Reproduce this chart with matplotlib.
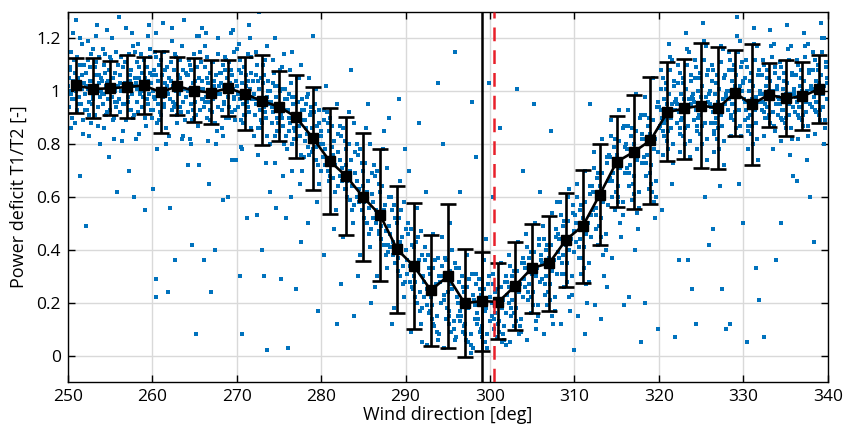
import matplotlib
matplotlib.use("Agg")
import matplotlib.pyplot as plt

plt.rcParams['font.family'] = ['Open Sans', 'DejaVu Sans']

# Binned statistics (bin centres, mean, upper and lower end of error bar)
bin_centers = [251, 253, 255, 257, 259, 261, 263, 265, 267, 269, 271, 273, 275, 277, 279,
               281, 283, 285, 287, 289, 291, 293, 295, 297, 299, 301, 303, 305, 307, 309,
               311, 313, 315, 317, 319, 321, 323, 325, 327, 329, 331, 333, 335, 337, 339]
mean_vals = [1.022, 1.009, 1.011, 1.016, 1.022, 0.997, 1.019, 1.002, 0.995, 1.012, 0.990, 0.963, 0.942, 0.903, 0.824,
             0.737, 0.678, 0.599, 0.531, 0.402, 0.338, 0.247, 0.300, 0.198, 0.206, 0.203, 0.265, 0.332, 0.349, 0.438,
             0.491, 0.609, 0.733, 0.770, 0.814, 0.921, 0.935, 0.946, 0.936, 0.995, 0.950, 0.987, 0.973, 0.981, 1.009]
upper_vals = [1.124, 1.124, 1.113, 1.136, 1.129, 1.152, 1.129, 1.124, 1.119, 1.118, 1.129, 1.137, 1.076, 1.063, 1.016,
              0.938, 0.902, 0.844, 0.781, 0.643, 0.579, 0.458, 0.574, 0.402, 0.392, 0.351, 0.428, 0.498, 0.527, 0.615,
              0.704, 0.801, 0.907, 0.985, 1.055, 1.112, 1.123, 1.183, 1.166, 1.157, 1.178, 1.108, 1.117, 1.109, 1.136]
lower_vals = [0.918, 0.900, 0.910, 0.900, 0.913, 0.844, 0.910, 0.883, 0.876, 0.905, 0.855, 0.797, 0.810, 0.746, 0.626,
              0.534, 0.455, 0.357, 0.281, 0.161, 0.101, 0.035, 0.028, -0.005, 0.019, 0.061, 0.098, 0.161, 0.169, 0.260,
              0.276, 0.418, 0.561, 0.556, 0.574, 0.735, 0.744, 0.709, 0.705, 0.831, 0.720, 0.864, 0.829, 0.855, 0.879]

# Reference lines
solid_line_x = 299.0
dashed_line_x = 300.5

scatter_points = [
    (250.2,1.05),(250.5,0.97),(250.8,1.12),(251.1,0.93),(251.4,1.01),(251.7,1.18),(252.0,0.99),(250.3,1.08),(250.9,0.88),(251.6,1.03),(251.9,1.10),(250.6,1.22),(251.3,0.95),(250.1,1.00),(251.0,1.27),(251.8,0.84),(251.5,0.68),
    (252.2,1.02),(252.5,0.91),(252.8,1.14),(253.0,0.98),(253.3,1.06),(253.6,0.87),(253.9,1.00),(252.4,1.19),(252.9,0.95),(253.2,1.09),(253.7,1.03),(252.1,0.93),(253.5,1.25),(253.8,0.80),(252.6,1.04),(252.2,0.49),
    (254.1,0.99),(254.4,1.07),(254.7,0.92),(255.0,1.13),(255.3,1.01),(255.6,0.96),(255.9,1.10),(254.3,0.86),(254.8,1.04),(255.2,1.20),(255.7,0.94),(254.5,1.02),(255.4,0.89),(254.2,1.16),(255.8,0.62),(254.9,0.75),
    (256.2,1.03),(256.5,0.95),(256.8,1.11),(257.1,0.98),(257.4,1.06),(257.7,0.90),(258.0,1.15),(256.3,1.00),(256.9,1.24),(257.3,0.93),(257.8,1.02),(256.6,0.85),(257.5,1.08),(256.1,1.28),(257.2,0.70),(257.9,0.60),
    (258.2,1.01),(258.5,1.09),(258.8,0.94),(259.1,1.05),(259.4,0.97),(259.7,1.13),(260.0,0.90),(258.3,1.18),(258.9,1.00),(259.3,0.87),(259.8,1.07),(258.6,0.99),(259.5,1.21),(258.1,0.82),(259.2,0.55),(259.9,1.03),
    (260.2,0.98),(260.5,1.06),(260.8,0.89),(261.1,1.12),(261.4,0.95),(261.7,1.02),(262.0,0.83),(260.3,1.15),(260.9,0.92),(261.3,1.26),(261.8,1.00),(260.6,0.78),(261.5,1.08),(260.1,0.63),(260.4,0.29),(260.5,0.22),(261.9,0.24),
    (262.2,1.04),(262.5,0.96),(262.8,1.13),(263.1,1.01),(263.4,0.92),(263.7,1.08),(264.0,0.98),(262.3,1.19),(262.9,0.88),(263.3,1.05),(263.8,1.27),(262.6,0.94),(263.5,0.82),(262.1,0.56),(262.7,0.36),(264.2,0.72),
    (264.2,1.00),(264.5,1.10),(264.8,0.93),(265.1,1.04),(265.4,0.87),(265.7,1.15),(266.0,0.97),(264.3,1.06),(264.9,0.90),(265.3,1.21),(265.8,1.01),(264.6,0.80),(265.5,0.72),(264.7,0.42),(265.2,0.08),(265.9,1.24),
    (266.2,0.96),(266.5,1.05),(266.8,0.89),(267.1,1.11),(267.4,0.99),(267.7,0.85),(268.0,1.07),(266.3,1.17),(266.9,0.93),(267.3,1.02),(267.8,1.20),(266.6,0.81),(267.5,0.40),(266.1,0.36),(267.0,0.24),(266.7,0.65),
    (268.2,1.03),(268.5,0.95),(268.8,1.12),(269.1,0.90),(269.4,1.06),(269.7,0.98),(270.0,1.16),(268.3,0.86),(268.9,1.01),(269.3,1.22),(269.8,0.93),(268.6,1.08),(269.5,0.74),(268.4,0.59),(269.0,0.60),(269.9,0.74),
    (270.2,0.99),(270.5,1.07),(270.8,0.88),(271.1,1.02),(271.4,0.94),(271.7,1.13),(272.0,0.83),(270.3,1.18),(270.9,0.91),(271.3,1.04),(271.8,0.97),(270.6,0.78),(271.5,1.25),(270.4,0.30),(270.6,0.08),(271.2,0.52),
    (272.2,0.97),(272.5,1.04),(272.8,0.86),(273.1,1.10),(273.4,0.92),(273.7,1.00),(274.0,0.80),(272.3,1.15),(272.9,0.89),(273.3,1.06),(273.8,0.95),(272.6,1.30),(273.5,0.73),(272.4,0.53),(273.0,0.40),(273.6,0.02),(273.2,0.30),(273.9,0.62),
    (274.2,0.94),(274.5,1.02),(274.8,0.85),(275.1,1.08),(275.4,0.90),(275.7,0.97),(276.0,0.78),(274.3,1.12),(274.9,0.88),(275.3,1.01),(275.8,0.83),(274.6,1.20),(275.5,0.68),(274.7,0.56),(275.2,0.29),(275.9,0.52),(276.1,0.03),
    (276.2,0.90),(276.5,0.98),(276.8,0.82),(277.1,1.05),(277.4,0.87),(277.7,0.93),(278.0,0.75),(276.3,1.08),(276.9,0.85),(277.3,0.96),(277.8,0.70),(276.6,1.15),(277.5,0.65),(277.0,0.25),(277.6,0.43),(276.4,0.60),
    (278.2,0.86),(278.5,0.79),(278.8,0.92),(279.1,0.83),(279.4,0.74),(279.7,0.88),(280.0,0.70),(278.3,0.98),(278.9,0.77),(279.3,0.95),(279.8,0.65),(278.6,1.05),(279.5,0.58),(278.4,0.50),(279.0,1.21),(279.6,0.17),
    (280.2,0.80),(280.5,0.72),(280.8,0.88),(281.1,0.68),(281.4,0.76),(281.7,0.62),(282.0,0.84),(280.3,0.93),(280.9,0.66),(281.3,0.79),(281.8,0.55),(280.6,1.02),(281.5,0.48),(280.4,0.38),(281.0,0.90),(281.9,0.12),
    (282.2,0.74),(282.5,0.66),(282.8,0.81),(283.1,0.60),(283.4,0.70),(283.7,0.55),(284.0,0.77),(282.3,0.87),(282.9,0.63),(283.3,0.92),(283.8,0.50),(282.6,0.45),(283.5,1.08),(282.4,0.27),(283.0,0.72),(283.9,0.15),
    (284.2,0.66),(284.5,0.58),(284.8,0.73),(285.1,0.52),(285.4,0.62),(285.7,0.46),(286.0,0.69),(284.3,0.80),(284.9,0.55),(285.3,0.86),(285.8,0.41),(284.6,0.38),(285.5,0.95),(284.4,0.30),(285.0,0.64),(285.9,0.20),
    (286.2,0.58),(286.5,0.50),(286.8,0.65),(287.1,0.44),(287.4,0.55),(287.7,0.38),(288.0,0.60),(286.3,0.72),(286.9,0.47),(287.3,0.78),(287.8,0.33),(286.6,0.30),(287.5,0.85),(286.4,0.26),(287.0,0.53),(287.9,0.42),(288.1,0.90),
    (288.2,0.46),(288.5,0.38),(288.8,0.52),(289.1,0.32),(289.4,0.43),(289.7,0.27),(290.0,0.48),(288.3,0.60),(288.9,0.35),(289.3,0.66),(289.8,0.22),(288.6,0.18),(289.5,0.55),(288.4,0.12),(289.0,0.40),(289.9,0.78),(289.2,0.97),
    (290.2,0.36),(290.5,0.28),(290.8,0.42),(291.1,0.22),(291.4,0.33),(291.7,0.17),(292.0,0.38),(290.3,0.50),(290.9,0.25),(291.3,0.56),(291.8,0.12),(290.6,0.09),(291.5,0.45),(290.4,0.70),(291.0,0.30),(291.9,0.05),(291.6,0.88),
    (292.2,0.28),(292.5,0.19),(292.8,0.33),(293.1,0.14),(293.4,0.25),(293.7,0.09),(294.0,0.30),(292.3,0.41),(292.9,0.17),(293.3,0.46),(293.8,0.06),(292.6,0.04),(293.5,0.36),(292.4,0.62),(293.0,0.22),(293.9,1.03),(293.2,0.12),
    (294.2,0.30),(294.5,0.21),(294.8,0.36),(295.1,0.15),(295.4,0.27),(295.7,0.10),(296.0,0.33),(294.3,0.45),(294.9,0.18),(295.3,0.50),(295.8,0.06),(294.6,0.03),(295.5,0.40),(294.4,0.80),(295.0,0.24),(295.9,1.15),(295.2,0.12),
    (296.2,0.20),(296.5,0.13),(296.8,0.26),(297.1,0.08),(297.4,0.18),(297.7,0.04),(298.0,0.23),(296.3,0.33),(296.9,0.11),(297.3,0.38),(297.8,0.01),(296.6,0.15),(297.5,0.29),(296.4,0.62),(297.0,0.21),(297.9,0.96),(297.2,0.06),
    (298.2,0.19),(298.5,0.12),(298.8,0.25),(299.1,0.07),(299.4,0.17),(299.7,0.03),(300.0,0.22),(298.3,0.31),(298.9,0.10),(299.3,0.36),(299.8,0.27),(298.6,0.14),(299.5,0.44),(298.4,0.75),(299.0,0.20),(299.9,1.03),(299.2,0.05),
    (300.2,0.20),(300.5,0.14),(300.8,0.25),(301.1,0.09),(301.4,0.18),(301.7,0.06),(302.0,0.23),(300.3,0.31),(300.9,0.12),(301.3,0.35),(301.8,0.28),(300.6,0.16),(301.5,0.08),(300.4,0.60),(301.0,0.21),(301.9,0.04),(301.2,0.86),
    (302.2,0.26),(302.5,0.18),(302.8,0.32),(303.1,0.13),(303.4,0.24),(303.7,0.09),(304.0,0.29),(302.3,0.38),(302.9,0.16),(303.3,0.43),(303.8,0.35),(302.6,0.21),(303.5,0.11),(302.4,0.05),(303.0,0.27),(303.9,0.70),(303.2,1.01),
    (304.2,0.33),(304.5,0.24),(304.8,0.39),(305.1,0.19),(305.4,0.30),(305.7,0.15),(306.0,0.36),(304.3,0.46),(304.9,0.22),(305.3,0.50),(305.8,0.42),(304.6,0.27),(305.5,0.10),(304.4,0.06),(305.0,0.34),(305.9,0.62),(305.2,0.95),
    (306.2,0.35),(306.5,0.27),(306.8,0.42),(307.1,0.21),(307.4,0.32),(307.7,0.17),(308.0,0.39),(306.3,0.49),(306.9,0.24),(307.3,0.54),(307.8,0.45),(306.6,0.30),(307.5,0.12),(306.4,0.08),(307.0,0.37),(307.9,0.58),(307.2,0.85),
    (308.2,0.44),(308.5,0.35),(308.8,0.51),(309.1,0.28),(309.4,0.40),(309.7,0.23),(310.0,0.47),(308.3,0.58),(308.9,0.31),(309.3,0.63),(309.8,0.54),(308.6,0.38),(309.5,0.17),(308.4,0.12),(309.0,0.45),(309.9,0.02),(309.2,0.60),
    (310.2,0.50),(310.5,0.41),(310.8,0.57),(311.1,0.33),(311.4,0.46),(311.7,0.28),(312.0,0.53),(310.3,0.65),(310.9,0.37),(311.3,0.70),(311.8,0.61),(310.6,0.44),(311.5,0.20),(310.4,0.15),(311.0,0.52),(311.9,0.95),(311.2,0.08),
    (312.2,0.62),(312.5,0.53),(312.8,0.69),(313.1,0.45),(313.4,0.58),(313.7,0.40),(314.0,0.66),(312.3,0.77),(312.9,0.49),(313.3,0.82),(313.8,0.73),(312.6,0.56),(313.5,0.30),(312.4,0.19),(313.0,0.64),(313.9,0.26),(313.2,0.14),
    (314.2,0.75),(314.5,0.66),(314.8,0.82),(315.1,0.58),(315.4,0.71),(315.7,0.53),(316.0,0.79),(314.3,0.89),(314.9,0.62),(315.3,0.93),(315.8,0.86),(314.6,0.69),(315.5,0.45),(314.4,0.37),(315.0,0.76),(315.9,0.19),(315.2,0.60),
    (316.2,0.78),(316.5,0.69),(316.8,0.86),(317.1,0.61),(317.4,0.74),(317.7,0.56),(318.0,0.82),(316.3,0.93),(316.9,0.65),(317.3,0.99),(317.8,0.90),(316.6,0.72),(317.5,0.48),(316.4,0.22),(317.0,0.80),(317.9,0.05),(317.2,0.40),
    (318.2,0.82),(318.5,0.73),(318.8,0.90),(319.1,0.65),(319.4,0.78),(319.7,0.60),(320.0,0.86),(318.3,0.98),(318.9,0.69),(319.3,1.05),(319.8,0.94),(318.6,0.76),(319.5,0.52),(318.4,0.20),(319.0,0.84),(319.9,0.10),(319.2,0.62),
    (320.2,0.93),(320.5,0.85),(320.8,1.01),(321.1,0.78),(321.4,0.90),(321.7,0.73),(322.0,0.97),(320.3,1.08),(320.9,0.81),(321.3,1.13),(321.8,1.04),(320.6,0.88),(321.5,0.65),(320.4,0.55),(321.0,0.95),(321.9,0.07),(321.2,1.18),
    (322.2,0.95),(322.5,0.86),(322.8,1.03),(323.1,0.80),(323.4,0.92),(323.7,0.75),(324.0,0.99),(322.3,1.10),(322.9,0.83),(323.3,1.16),(323.8,1.06),(322.6,0.89),(323.5,0.36),(322.4,0.36),(323.0,0.97),(323.9,0.25),(323.2,1.22),
    (324.2,0.96),(324.5,0.87),(324.8,1.05),(325.1,0.80),(325.4,0.93),(325.7,0.74),(326.0,1.00),(324.3,1.12),(324.9,0.84),(325.3,1.19),(325.8,1.08),(324.6,0.90),(325.5,0.60),(324.4,0.12),(325.0,0.98),(325.9,0.42),(325.2,1.26),
    (326.2,0.94),(326.5,0.85),(326.8,1.03),(327.1,0.78),(327.4,0.91),(327.7,0.72),(328.0,0.99),(326.3,1.10),(326.9,0.82),(327.3,1.17),(327.8,1.06),(326.6,0.88),(327.5,0.25),(326.4,0.48),(327.0,0.96),(327.9,0.10),(327.2,0.64),
    (328.2,1.00),(328.5,0.91),(328.8,1.08),(329.1,0.86),(329.4,0.98),(329.7,0.83),(330.0,1.04),(328.3,1.15),(328.9,0.89),(329.3,1.21),(329.8,1.11),(328.6,0.95),(329.5,0.65),(328.4,0.12),(329.0,1.02),(329.9,0.50),(329.2,1.28),
    (330.2,0.96),(330.5,0.87),(330.8,1.04),(331.1,0.80),(331.4,0.93),(331.7,0.74),(332.0,1.00),(330.3,1.12),(330.9,0.84),(331.3,1.18),(331.8,1.08),(330.6,0.90),(331.5,0.33),(330.4,0.05),(331.0,0.97),(331.9,0.21),(331.2,1.24),
    (332.2,0.99),(332.5,0.92),(332.8,1.05),(333.1,0.88),(333.4,0.97),(333.7,0.85),(334.0,1.02),(332.3,1.12),(332.9,0.90),(333.3,1.17),(333.8,1.09),(332.6,0.95),(333.5,0.78),(332.4,0.07),(333.0,1.00),(333.9,0.36),(333.2,1.23),
    (334.2,0.97),(334.5,0.90),(334.8,1.04),(335.1,0.86),(335.4,0.95),(335.7,0.82),(336.0,1.01),(334.3,1.11),(334.9,0.88),(335.3,1.16),(335.8,1.07),(334.6,0.93),(335.5,0.76),(334.4,0.50),(335.0,0.99),(335.9,0.68),(335.2,1.25),
    (336.2,0.98),(336.5,0.91),(336.8,1.05),(337.1,0.87),(337.4,0.96),(337.7,0.83),(338.0,1.02),(336.3,1.12),(336.9,0.89),(337.3,1.17),(337.8,1.08),(336.6,0.94),(337.5,0.74),(336.4,0.66),(337.0,1.00),(337.9,0.60),(337.2,1.22),
    (338.2,1.01),(338.5,0.93),(338.8,1.08),(339.1,0.89),(339.4,0.99),(339.7,0.86),(339.9,1.05),(338.3,1.15),(338.9,0.91),(339.3,1.20),(339.8,1.11),(338.6,0.96),(339.5,0.80),(338.4,0.43),(339.0,1.03),(339.6,0.80),(339.2,1.26),
]

# Dense core of the cloud
scatter_core_points = [
    (250.05,1.02),(250.15,0.94),(250.25,1.09),(250.35,0.99),(250.45,1.15),(250.55,0.90),(250.65,1.04),(250.75,0.97),(250.85,1.07),(250.95,1.00),(251.05,1.13),(251.15,0.92),(251.25,1.05),(251.35,0.98),(251.45,1.10),(251.55,0.95),(251.65,1.01),(251.75,1.06),(251.85,0.89),(251.95,1.03),(250.40,0.86),(251.50,1.20),
    (252.05,0.99),(252.15,1.07),(252.25,0.93),(252.35,1.12),(252.45,1.01),(252.55,0.96),(252.65,1.09),(252.75,0.88),(252.85,1.04),(252.95,1.16),(253.05,0.97),(253.15,1.02),(253.25,0.91),(253.35,1.11),(253.45,1.00),(253.55,0.94),(253.65,1.06),(253.75,1.13),(253.85,0.98),(253.95,1.05),(252.50,0.83),(253.40,1.21),
    (254.05,1.04),(254.15,0.95),(254.25,1.10),(254.35,0.99),(254.45,1.14),(254.55,0.91),(254.65,1.03),(254.75,0.97),(254.85,1.08),(254.95,1.01),(255.05,0.93),(255.15,1.12),(255.25,0.98),(255.35,1.05),(255.45,0.90),(255.55,1.07),(255.65,1.00),(255.75,1.15),(255.85,0.96),(255.95,1.02),(254.60,1.23),(255.50,0.82),
    (256.05,0.97),(256.15,1.06),(256.25,0.92),(256.35,1.13),(256.45,1.00),(256.55,1.09),(256.65,0.95),(256.75,1.03),(256.85,0.89),(256.95,1.11),(257.05,1.01),(257.15,0.96),(257.25,1.14),(257.35,1.04),(257.45,0.93),(257.55,1.08),(257.65,0.99),(257.75,1.17),(257.85,0.91),(257.95,1.05),(256.40,0.81),(257.60,1.22),
    (258.05,1.03),(258.15,0.96),(258.25,1.11),(258.35,0.92),(258.45,1.05),(258.55,1.00),(258.65,1.14),(258.75,0.94),(258.85,1.07),(258.95,0.98),(259.05,1.12),(259.15,0.90),(259.25,1.02),(259.35,1.09),(259.45,0.95),(259.55,1.04),(259.65,0.99),(259.75,1.16),(259.85,0.93),(259.95,1.06),(258.40,0.84),(259.60,1.25),
    (260.05,1.00),(260.15,0.93),(260.25,1.08),(260.35,0.97),(260.45,1.13),(260.55,0.88),(260.65,1.04),(260.75,0.95),(260.85,1.10),(260.95,1.01),(261.05,0.91),(261.15,1.06),(261.25,0.98),(261.35,1.15),(261.45,0.94),(261.55,1.03),(261.65,0.86),(261.75,1.09),(261.85,0.99),(261.95,1.05),(260.50,1.22),(261.60,0.80),
    (262.05,1.05),(262.15,0.97),(262.25,1.11),(262.35,0.93),(262.45,1.02),(262.55,1.08),(262.65,0.95),(262.75,1.14),(262.85,1.00),(262.95,0.91),(263.05,1.06),(263.15,0.99),(263.25,1.12),(263.35,0.94),(263.45,1.03),(263.55,1.17),(263.65,0.96),(263.75,1.01),(263.85,0.89),(263.95,1.07),(262.40,1.24),(263.60,0.83),
    (264.05,0.98),(264.15,1.06),(264.25,0.92),(264.35,1.12),(264.45,1.01),(264.55,0.95),(264.65,1.08),(264.75,0.89),(264.85,1.03),(264.95,1.14),(265.05,0.96),(265.15,1.00),(265.25,0.91),(265.35,1.09),(265.45,0.99),(265.55,1.05),(265.65,0.93),(265.75,1.11),(265.85,0.97),(265.95,1.04),(264.50,0.82),(265.60,1.21),
    (266.05,1.01),(266.15,0.94),(266.25,1.09),(266.35,0.98),(266.45,1.13),(266.55,0.90),(266.65,1.03),(266.75,0.96),(266.85,1.07),(266.95,1.00),(267.05,0.92),(267.15,1.11),(267.25,0.97),(267.35,1.04),(267.45,0.88),(267.55,1.06),(267.65,0.99),(267.75,1.14),(267.85,0.94),(267.95,1.02),(266.40,1.22),(267.60,0.80),
    (268.05,0.99),(268.15,1.07),(268.25,0.93),(268.35,1.10),(268.45,1.02),(268.55,0.96),(268.65,1.13),(268.75,0.90),(268.85,1.05),(268.95,0.98),(269.05,1.11),(269.15,0.94),(269.25,1.03),(269.35,1.08),(269.45,0.92),(269.55,1.01),(269.65,0.97),(269.75,1.15),(269.85,0.89),(269.95,1.04),(268.40,0.83),(269.60,1.23),
    (270.05,1.02),(270.15,0.94),(270.25,1.08),(270.35,0.97),(270.45,1.12),(270.55,0.89),(270.65,1.03),(270.75,0.95),(270.85,1.09),(270.95,0.99),(271.05,0.91),(271.15,1.06),(271.25,0.96),(271.35,1.14),(271.45,0.92),(271.55,1.01),(271.65,0.86),(271.75,1.07),(271.85,0.98),(271.95,1.04),(270.50,0.79),(271.60,1.20),
    (272.05,0.99),(272.15,0.91),(272.25,1.06),(272.35,0.95),(272.45,1.10),(272.55,0.86),(272.65,1.01),(272.75,0.93),(272.85,1.05),(272.95,0.97),(273.05,0.88),(273.15,1.03),(273.25,0.94),(273.35,1.12),(273.45,0.90),(273.55,0.98),(273.65,0.83),(273.75,1.04),(273.85,0.96),(273.95,1.00),(272.50,0.76),(273.60,1.17),
    (274.05,0.96),(274.15,0.88),(274.25,1.03),(274.35,0.92),(274.45,1.07),(274.55,0.83),(274.65,0.98),(274.75,0.90),(274.85,1.02),(274.95,0.94),(275.05,0.85),(275.15,1.00),(275.25,0.91),(275.35,1.09),(275.45,0.87),(275.55,0.95),(275.65,0.80),(275.75,1.01),(275.85,0.93),(275.95,0.97),(274.50,0.73),(275.60,1.14),
    (276.05,0.93),(276.15,0.85),(276.25,0.99),(276.35,0.88),(276.45,1.03),(276.55,0.80),(276.65,0.95),(276.75,0.86),(276.85,0.98),(276.95,0.90),(277.05,0.82),(277.15,0.96),(277.25,0.87),(277.35,1.05),(277.45,0.83),(277.55,0.91),(277.65,0.76),(277.75,0.97),(277.85,0.89),(277.95,0.93),(276.50,0.70),(277.60,1.10),
    (278.05,0.89),(278.15,0.81),(278.25,0.95),(278.35,0.84),(278.45,0.99),(278.55,0.76),(278.65,0.91),(278.75,0.82),(278.85,0.94),(278.95,0.86),(279.05,0.78),(279.15,0.92),(279.25,0.83),(279.35,1.01),(279.45,0.79),(279.55,0.87),(279.65,0.72),(279.75,0.93),(279.85,0.80),(279.95,0.85),
    (280.05,0.83),(280.20,0.75),(280.35,0.89),(280.50,0.78),(280.65,0.92),(280.80,0.70),(280.95,0.85),(281.10,0.74),(281.25,0.87),(281.40,0.67),(281.55,0.81),(281.70,0.72),(281.85,0.95),(281.95,0.64),
    (282.05,0.77),(282.20,0.68),(282.35,0.83),(282.50,0.71),(282.65,0.86),(282.80,0.63),(282.95,0.78),(283.10,0.66),(283.25,0.80),(283.40,0.59),(283.55,0.74),(283.70,0.64),(283.85,0.88),(283.95,0.57),
    (284.05,0.69),(284.20,0.60),(284.35,0.76),(284.50,0.63),(284.65,0.78),(284.80,0.55),(284.95,0.70),(285.10,0.58),(285.25,0.73),(285.40,0.50),(285.55,0.66),(285.70,0.56),(285.85,0.80),(285.95,0.48),
    (286.05,0.61),(286.20,0.52),(286.35,0.68),(286.50,0.55),(286.65,0.70),(286.80,0.46),(286.95,0.62),(287.10,0.49),(287.25,0.64),(287.40,0.42),(287.55,0.57),(287.70,0.47),(287.85,0.71),(287.95,0.39),
    (288.05,0.49),(288.20,0.41),(288.35,0.55),(288.50,0.43),(288.65,0.57),(288.80,0.35),(288.95,0.50),(289.10,0.37),(289.25,0.52),(289.40,0.30),(289.55,0.45),(289.70,0.34),(289.85,0.58),(289.95,0.28),
    (290.05,0.40),(290.20,0.31),(290.35,0.46),(290.50,0.34),(290.65,0.48),(290.80,0.26),(290.95,0.41),(291.10,0.28),(291.25,0.43),(291.40,0.20),(291.55,0.36),(291.70,0.24),(291.85,0.47),(291.95,0.18),
    (292.05,0.30),(292.20,0.22),(292.35,0.36),(292.50,0.25),(292.65,0.38),(292.80,0.16),(292.95,0.31),(293.10,0.19),(293.25,0.33),(293.40,0.11),(293.55,0.27),(293.70,0.15),(293.85,0.37),(293.95,0.08),
    (294.05,0.28),(294.20,0.20),(294.35,0.34),(294.50,0.23),(294.65,0.37),(294.80,0.14),(294.95,0.29),(295.10,0.17),(295.25,0.32),(295.40,0.09),(295.55,0.25),(295.70,0.13),(295.85,0.35),(295.95,0.07),
    (296.05,0.22),(296.20,0.15),(296.35,0.28),(296.50,0.17),(296.65,0.30),(296.80,0.09),(296.95,0.24),(297.10,0.12),(297.25,0.26),(297.40,0.05),(297.55,0.19),(297.70,0.08),(297.85,0.31),(297.95,0.03),
    (298.05,0.21),(298.20,0.14),(298.35,0.27),(298.50,0.16),(298.65,0.29),(298.80,0.09),(298.95,0.23),(299.10,0.11),(299.25,0.25),(299.40,0.05),(299.55,0.18),(299.70,0.08),(299.85,0.30),(299.95,0.13),
    (300.05,0.22),(300.20,0.15),(300.35,0.27),(300.50,0.10),(300.65,0.24),(300.80,0.07),(300.95,0.19),(301.10,0.13),(301.25,0.26),(301.40,0.05),(301.55,0.21),(301.70,0.11),(301.85,0.30),(301.95,0.16),
    (302.05,0.28),(302.20,0.20),(302.35,0.34),(302.50,0.15),(302.65,0.30),(302.80,0.11),(302.95,0.25),(303.10,0.18),(303.25,0.32),(303.40,0.08),(303.55,0.27),(303.70,0.14),(303.85,0.37),(303.95,0.22),
    (304.05,0.35),(304.20,0.26),(304.35,0.41),(304.50,0.21),(304.65,0.37),(304.80,0.16),(304.95,0.31),(305.10,0.24),(305.25,0.39),(305.40,0.13),(305.55,0.33),(305.70,0.19),(305.85,0.44),(305.95,0.28),
    (306.05,0.38),(306.20,0.29),(306.35,0.44),(306.50,0.23),(306.65,0.40),(306.80,0.19),(306.95,0.34),(307.10,0.27),(307.25,0.42),(307.40,0.15),(307.55,0.36),(307.70,0.22),(307.85,0.48),(307.95,0.31),
    (308.05,0.46),(308.20,0.37),(308.35,0.53),(308.50,0.31),(308.65,0.49),(308.80,0.26),(308.95,0.42),(309.10,0.35),(309.25,0.51),(309.40,0.22),(309.55,0.44),(309.70,0.30),(309.85,0.57),(309.95,0.39),
    (310.05,0.53),(310.20,0.43),(310.35,0.60),(310.50,0.37),(310.65,0.55),(310.80,0.31),(310.95,0.48),(311.10,0.41),(311.25,0.58),(311.40,0.27),(311.55,0.50),(311.70,0.35),(311.85,0.64),(311.95,0.45),
    (312.05,0.64),(312.20,0.55),(312.35,0.71),(312.50,0.48),(312.65,0.67),(312.80,0.42),(312.95,0.60),(313.10,0.52),(313.25,0.69),(313.40,0.38),(313.55,0.62),(313.70,0.46),(313.85,0.75),(313.95,0.57),
    (314.05,0.76),(314.20,0.67),(314.35,0.83),(314.50,0.60),(314.65,0.79),(314.80,0.55),(314.95,0.72),(315.10,0.64),(315.25,0.81),(315.40,0.50),(315.55,0.74),(315.70,0.58),(315.85,0.87),(315.95,0.69),
    (316.05,0.80),(316.20,0.71),(316.35,0.87),(316.50,0.64),(316.65,0.83),(316.80,0.59),(316.95,0.76),(317.10,0.68),(317.25,0.85),(317.40,0.54),(317.55,0.78),(317.70,0.62),(317.85,0.91),(317.95,0.73),
    (318.05,0.84),(318.20,0.75),(318.35,0.91),(318.50,0.68),(318.65,0.87),(318.80,0.63),(318.95,0.80),(319.10,0.72),(319.25,0.89),(319.40,0.58),(319.55,0.82),(319.70,0.66),(319.85,0.96),(319.95,0.77),
    (320.05,0.94),(320.15,0.87),(320.25,1.01),(320.35,0.90),(320.45,1.05),(320.55,0.83),(320.65,0.97),(320.75,0.89),(320.85,1.03),(320.95,0.92),(321.05,0.85),(321.15,0.99),(321.25,0.91),(321.35,1.08),(321.45,0.86),(321.55,0.95),(321.65,0.80),(321.75,1.02),(321.85,0.93),(321.95,0.96),(320.50,0.76),(321.60,1.12),
    (322.05,0.96),(322.15,0.88),(322.25,1.03),(322.35,0.92),(322.45,1.07),(322.55,0.84),(322.65,0.99),(322.75,0.90),(322.85,1.05),(322.95,0.94),(323.05,0.86),(323.15,1.01),(323.25,0.93),(323.35,1.10),(323.45,0.87),(323.55,0.97),(323.65,0.81),(323.75,1.04),(323.85,0.95),(323.95,0.98),(322.50,0.77),(323.60,1.15),
    (324.05,0.97),(324.15,0.89),(324.25,1.05),(324.35,0.93),(324.45,1.09),(324.55,0.85),(324.65,1.00),(324.75,0.91),(324.85,1.07),(324.95,0.95),(325.05,0.87),(325.15,1.02),(325.25,0.94),(325.35,1.12),(325.45,0.88),(325.55,0.98),(325.65,0.82),(325.75,1.06),(325.85,0.96),(325.95,0.99),(324.50,0.78),(325.60,1.17),
    (326.05,0.95),(326.15,0.88),(326.25,1.04),(326.35,0.92),(326.45,1.08),(326.55,0.84),(326.65,0.99),(326.75,0.90),(326.85,1.06),(326.95,0.94),(327.05,0.86),(327.15,1.01),(327.25,0.93),(327.35,1.11),(327.45,0.87),(327.55,0.97),(327.65,0.81),(327.75,1.05),(327.85,0.95),(327.95,0.98),(326.50,0.77),(327.60,1.16),
    (328.05,1.00),(328.15,0.93),(328.25,1.08),(328.35,0.97),(328.45,1.12),(328.55,0.90),(328.65,1.04),(328.75,0.95),(328.85,1.10),(328.95,0.99),(329.05,0.92),(329.15,1.06),(329.25,0.98),(329.35,1.15),(329.45,0.93),(329.55,1.02),(329.65,0.87),(329.75,1.09),(329.85,1.00),(329.95,1.03),(328.50,0.83),(329.60,1.19),
    (330.05,0.97),(330.15,0.89),(330.25,1.05),(330.35,0.93),(330.45,1.09),(330.55,0.85),(330.65,1.00),(330.75,0.91),(330.85,1.07),(330.95,0.95),(331.05,0.87),(331.15,1.02),(331.25,0.94),(331.35,1.12),(331.45,0.88),(331.55,0.98),(331.65,0.82),(331.75,1.06),(331.85,0.96),(331.95,0.99),(330.50,0.78),(331.60,1.17),
    (332.05,0.99),(332.15,0.93),(332.25,1.06),(332.35,0.96),(332.45,1.10),(332.55,0.90),(332.65,1.02),(332.75,0.94),(332.85,1.08),(332.95,0.98),(333.05,0.91),(333.15,1.04),(333.25,0.97),(333.35,1.13),(333.45,0.92),(333.55,1.00),(333.65,0.87),(333.75,1.07),(333.85,0.95),(333.95,1.01),(332.50,0.83),(333.60,1.18),
    (334.05,0.98),(334.15,0.91),(334.25,1.05),(334.35,0.95),(334.45,1.09),(334.55,0.89),(334.65,1.01),(334.75,0.93),(334.85,1.07),(334.95,0.97),(335.05,0.90),(335.15,1.03),(335.25,0.96),(335.35,1.12),(335.45,0.91),(335.55,0.99),(335.65,0.86),(335.75,1.06),(335.85,0.94),(335.95,1.00),(334.50,0.81),(335.60,1.17),
    (336.05,0.99),(336.15,0.92),(336.25,1.06),(336.35,0.96),(336.45,1.10),(336.55,0.90),(336.65,1.02),(336.75,0.94),(336.85,1.08),(336.95,0.98),(337.05,0.91),(337.15,1.04),(337.25,0.97),(337.35,1.13),(337.45,0.92),(337.55,1.00),(337.65,0.87),(337.75,1.07),(337.85,0.95),(337.95,1.01),(336.50,0.82),(337.60,1.18),
    (338.05,1.01),(338.15,0.94),(338.25,1.08),(338.35,0.98),(338.45,1.12),(338.55,0.92),(338.65,1.04),(338.75,0.96),(338.85,1.10),(338.95,1.00),(339.05,0.93),(339.15,1.06),(339.25,0.99),(339.35,1.15),(339.45,0.94),(339.55,1.02),(339.65,0.89),(339.75,1.09),(339.85,0.97),(339.95,1.03),(338.50,0.84),(339.60,1.20),
]
scatter_x = [p[0] for p in scatter_points + scatter_core_points]
scatter_y = [p[1] for p in scatter_points + scatter_core_points]

x_ticks = [250, 260, 270, 280, 290, 300, 310, 320, 330, 340]
y_ticks = [0, 0.2, 0.4, 0.6, 0.8, 1.0, 1.2]
y_tick_labels = ['0', '0.2', '0.4', '0.6', '0.8', '1', '1.2']

fig = plt.figure(figsize=(8.43, 4.25), dpi=100)
ax = fig.add_axes([0.0803, 0.1012, 0.9017, 0.8706])

ax.scatter(scatter_x, scatter_y, s=5, marker='s', color='#0072BD', linewidths=0, zorder=2)

yerr_low = [m - l for m, l in zip(mean_vals, lower_vals)]
yerr_high = [u - m for m, u in zip(mean_vals, upper_vals)]
ax.errorbar(bin_centers, mean_vals, yerr=[yerr_low, yerr_high], color='black',
            lw=1.9, elinewidth=1.9, capsize=5.5, capthick=1.9, marker='s',
            markersize=7.3, zorder=4)

ax.axvline(solid_line_x, color='black', lw=1.8, zorder=5)
ax.axvline(dashed_line_x, color='#E8202A', lw=1.8, ls=(0, (5.5, 3.6)), zorder=5)

ax.set_xlim(250, 340)
ax.set_ylim(-0.1, 1.3)
ax.set_xticks(x_ticks)
ax.set_yticks(y_ticks)
ax.set_yticklabels(y_tick_labels)
ax.grid(True, color='#d9d9d9', lw=1.0, zorder=0)
ax.set_axisbelow(True)
ax.tick_params(direction='in', length=5, width=1, top=True, right=True, labelsize=12.5, pad=5)
for sp in ax.spines.values():
    sp.set_linewidth(1.0)
ax.set_xlabel('Wind direction [deg]', fontsize=13, labelpad=1)
ax.set_ylabel('Power deficit T1/T2 [-]', fontsize=13, labelpad=6)

fig.savefig('out.png', dpi=100)
